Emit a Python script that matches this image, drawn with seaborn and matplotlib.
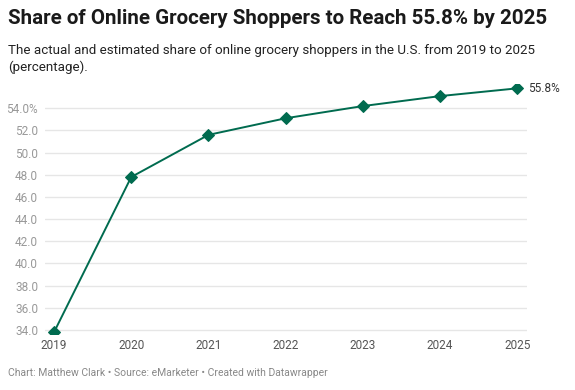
import matplotlib
matplotlib.use("Agg")
import matplotlib.pyplot as plt
import seaborn as sns
import pandas as pd

years = [2019, 2020, 2021, 2022, 2023, 2024, 2025]
share = [33.8, 47.8, 51.6, 53.1, 54.2, 55.1, 55.8]
yticks = [34, 36, 38, 40, 42, 44, 46, 48, 50, 52, 54]
ytick_labels = ["34.0", "36.0", "38.0", "40.0", "42.0", "44.0", "46.0", "48.0", "50.0", "52.0", "54.0%"]
title = "Share of Online Grocery Shoppers to Reach 55.8% by 2025"
subtitle = "The actual and estimated share of online grocery shoppers in the U.S. from 2019 to 2025\n(percentage)."
footer = "Chart: Matthew Clark \u2022 Source: eMarketer \u2022 Created with Datawrapper"

sns.set_style("white")
plt.rcParams['font.family'] = ['Roboto', 'DejaVu Sans']

df = pd.DataFrame({"year": years, "share": share})

fig = plt.figure(figsize=(5.75, 3.9), dpi=100)
ax = fig.add_axes([45/575, 1 - 334.4/390, (527-45)/575, (334.4-83.9)/390])

green = "#006b4f"
sns.lineplot(data=df, x="year", y="share", ax=ax, color=green, linewidth=1.4,
             marker="D", markersize=6, markeredgecolor=green, markerfacecolor=green)

ax.set_xlim(2018.883, 2025.126)
ax.set_ylim(33.6, 56.2)
ax.set_yticks(yticks)
ax.set_yticklabels(ytick_labels)
ax.set_xticks(years)
ax.set_xticklabels([str(y) for y in years])
ax.grid(axis="y", color="#e6e6e6", linewidth=1)
ax.set_axisbelow(True)
for s in ax.spines.values():
    s.set_visible(False)
ax.tick_params(axis="y", length=0, pad=5, labelsize=8.5, labelcolor="#999999")
ax.tick_params(axis="x", length=0, pad=3, labelsize=8.5, labelcolor="#555555")
ax.set_xlabel("")
ax.set_ylabel("")

ax.annotate(f"{share[-1]:.1f}%", xy=(years[-1], share[-1]), xytext=(8, 0),
            textcoords="offset points", va="center", ha="left", fontsize=8.5, color="#333333")

fig.text(8/575, 1 - 9/390, title, fontsize=14.8, fontweight="bold", color="#1a1a1a",
         va="top", ha="left")
fig.text(8/575, 1 - 44/390, subtitle, fontsize=9.6, color="#222222",
         va="top", ha="left", linespacing=1.35)
fig.text(8/575, 1 - 373/390, footer, fontsize=7.5, color="#888888",
         va="center", ha="left")

fig.savefig("out.png", dpi=100)
